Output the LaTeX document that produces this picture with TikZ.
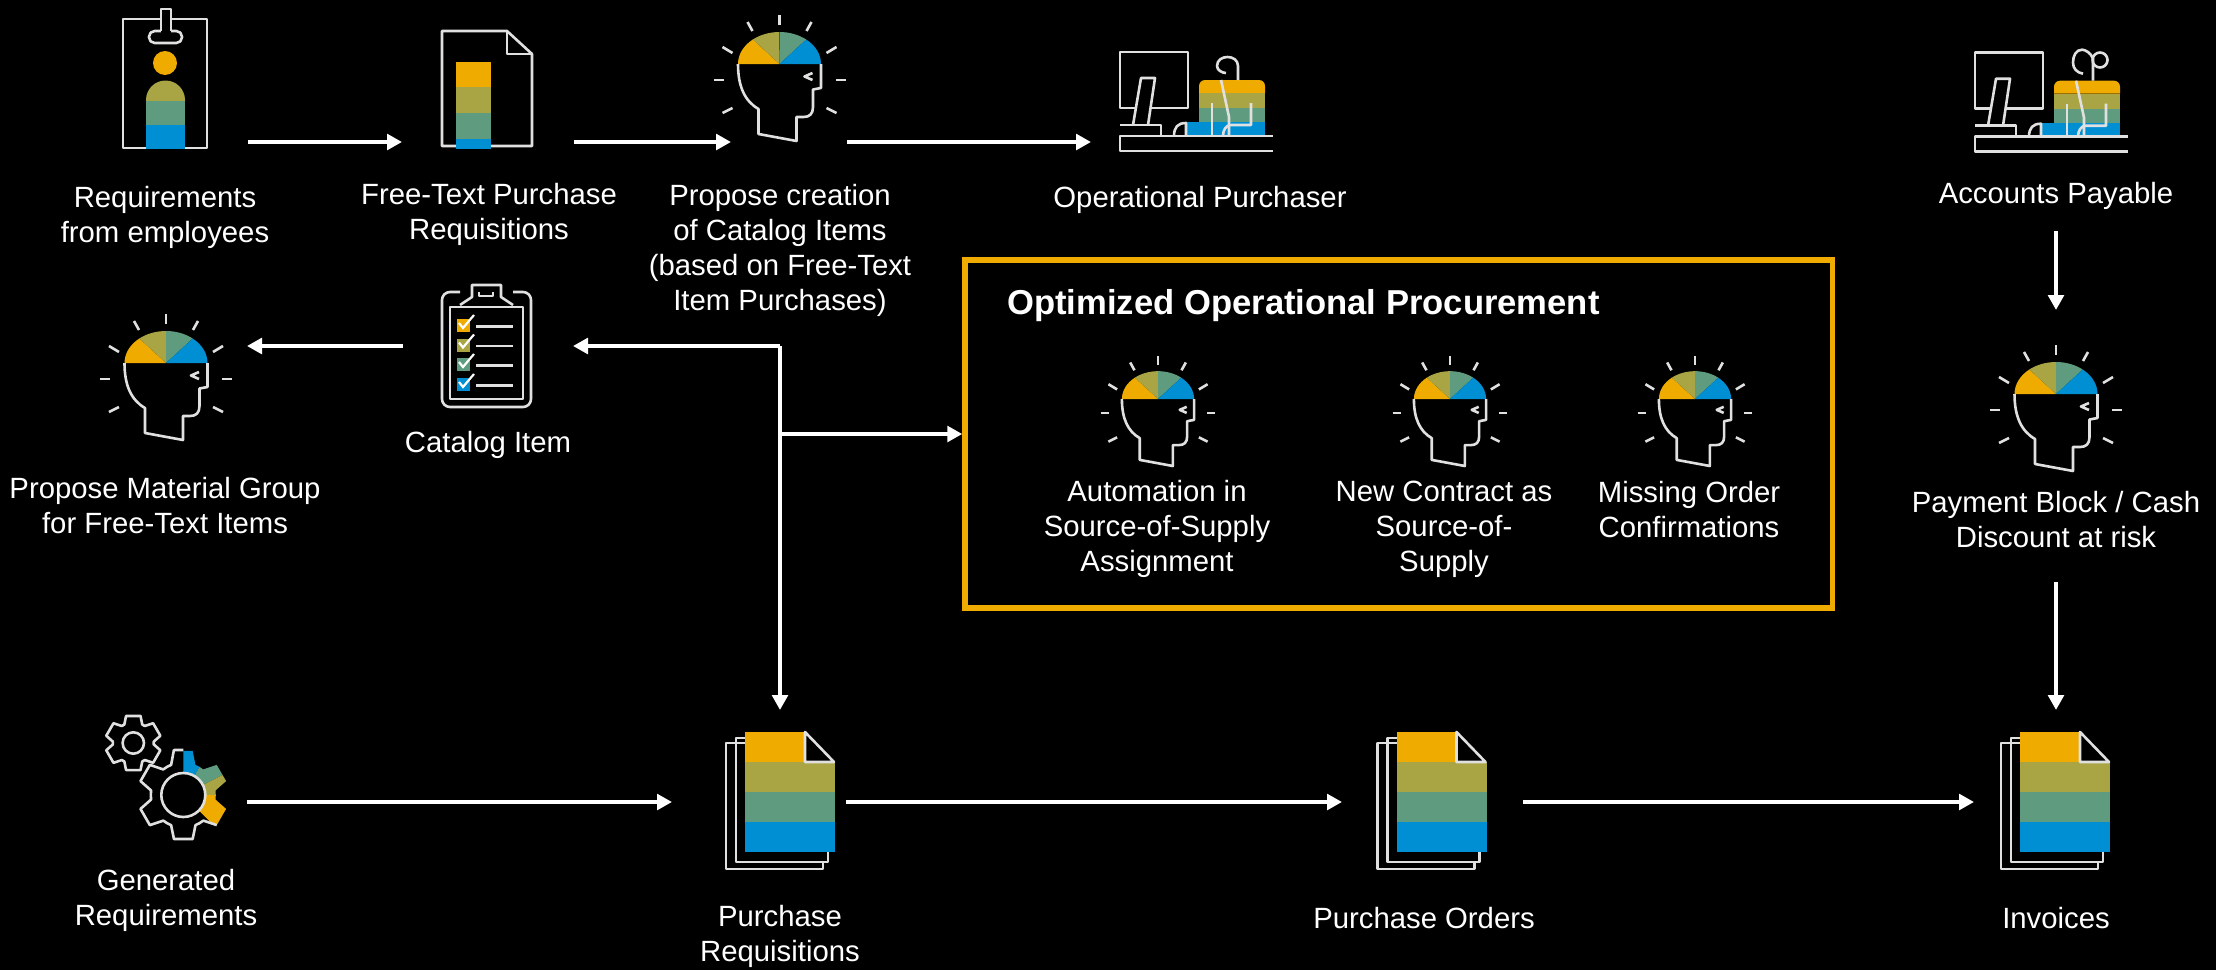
\documentclass[tikz,border=0pt]{standalone}
\usepackage{fontspec}
\setmainfont{Liberation Sans}
\usetikzlibrary{arrows.meta}
\definecolor{cOra}{HTML}{F0AB00}
\definecolor{cOli}{HTML}{A9A544}
\definecolor{cGre}{HTML}{5F9B7E}
\definecolor{cBlu}{HTML}{008FD3}
\definecolor{cLin}{HTML}{E0E0E0}
\newcommand{\gearpath}[4]{(60:#1) \foreach \ga in {90,150,210,270,330,390}{ -- (\ga-#4:#1) -- (\ga-#3:#2) -- (\ga+#3:#2) -- (\ga+#4:#1) -- (\ga+30:#1)} -- cycle}
\tikzset{
  x=0.5pt,y=0.5pt,
  icon/.style={draw=cLin,line width=1.3pt,line join=round},
  flow/.style={draw=white,line width=2pt,-{Triangle[length=7.5pt,width=7.8pt]}},
  lbl/.style={text=white,align=center,inner sep=0pt,font=\fontsize{14.65}{17.5}\selectfont},
  ttl/.style={text=white,anchor=west,inner sep=0pt,font=\fontsize{17.3}{20}\selectfont\bfseries},
  optbox/.style={draw=cOra,line width=2.75pt,minimum width=867.5*0.5pt,minimum height=348*0.5pt,inner sep=0pt},
  pics/thinker/.style={code={
    \fill[cOra] (0,0) -- (-41.5,0) arc[start angle=180,end angle=130,x radius=41.5,y radius=32] -- cycle;
    \fill[cOli] (0,0) -- (-26.7,24.5) arc[start angle=130,end angle=90,x radius=41.5,y radius=32] -- cycle;
    \fill[cGre] (0,0) -- (0,32) arc[start angle=90,end angle=50,x radius=41.5,y radius=32] -- cycle;
    \fill[cBlu] (0,0) -- (26.7,24.5) arc[start angle=50,end angle=0,x radius=41.5,y radius=32] -- cycle;
    \draw[icon] (41.5,0) -- (41.5,-24) -- (33.5,-25.5) -- (33.5,-43) .. controls (33.5,-50) and (30,-53) .. (24,-53) -- (17,-53) -- (17,-77) -- (-21,-70) -- (-21,-45) .. controls (-35,-37) and (-41.5,-22) .. (-41.5,0);
    \draw[icon,line cap=butt] (33,-9) -- (25,-12.5) -- (33,-16);
    \foreach \xa/\ya/\xb/\yb in {0/49/0/39,-32/42/-27/33,32/42/27/33,-57/17/-47/11,57/17/47/11,-66/-16/-56/-16,66/-16/56/-16,-57/-49/-47/-44,57/-49/47/-44}
      \draw[icon] (\xa,\ya) -- (\xb,\yb);
  }},
  pics/docstack/.style={code={
    \draw[icon] (0,-11) -- (-19,-11) -- (-19,-137) -- (78,-137) -- (78,-130);
    \draw[icon] (0,-6) -- (-9,-6) -- (-9,-130) -- (83,-130) -- (83,-120);
    \fill[cOra] (0,0) rectangle (60,-30);
    \fill[cOli] (0,-30) rectangle (90,-60);
    \fill[cGre] (0,-60) rectangle (90,-90);
    \fill[cBlu] (0,-90) rectangle (90,-120);
    \draw[icon] (60,0) -- (89,-30) -- (60,-30) -- cycle;
  }},
  pics/operator/.style={code={
    \fill[cOra] (79,-41) [rounded corners=3pt] -- (79,-28) -- (145,-28) [sharp corners] -- (145,-41) -- cycle;
    \fill[cOli] (79,-41) rectangle (145,-56);
    \fill[cGre] (79,-56) rectangle (145,-70);
    \fill[cBlu] (66,-70) rectangle (145,-84);
    \draw[icon] (0,0) rectangle (68,-56);
    \draw[icon,fill=black] (13,-73) -- (21,-26) -- (35,-26) -- (28,-73);
    \draw[icon] (0,-73) -- (41,-73) -- (41,-84);
    \draw[icon] (153,-84) -- (0,-84) -- (0,-99) -- (153,-99);
    \draw[icon] (66,-84) -- (66,-71) .. controls (58,-71) and (54,-75) .. (54,-84);
    \draw[icon] (101,-28) -- (109,-65) -- (109,-84);
    \draw[icon] (92,-51) -- (92,-84);
    \draw[icon] (131,-51) -- (131,-73) -- (111,-73) .. controls (106,-73) and (103,-78) .. (103,-84);
  }},
  pics/hookplain/.style={code={
    \draw[icon] (118,-28) -- (118,-14) .. controls (118,-2) and (97,-2) .. (97,-14) .. controls (97,-18) and (102,-21) .. (106,-21);
  }},
  pics/hookloop/.style={code={
    \draw[icon] (118,-28) -- (118,-6) .. controls (116,0) and (110,3) .. (107,3) .. controls (101,3) and (98,-3) .. (98,-10) .. controls (98,-16) and (102,-20) .. (108,-21);
    \draw[icon] (125,-7.3) circle[radius=7.5];
  }},
  pics/smallgear/.style={code={
    \draw[icon] \gearpath{20.5}{28}{15}{26};
    \draw[icon] (0,0) circle[radius=10.7];
  }},
  pics/biggear/.style={code={
    \begin{scope}
      \clip \gearpath{32.5}{45}{12}{22};
      \fill[cBlu] (0,0) -- (90:60) arc[start angle=90,end angle=60,radius=60] -- cycle;
      \fill[cGre] (0,0) -- (60:60) arc[start angle=60,end angle=27,radius=60] -- cycle;
      \fill[cOli] (0,0) -- (27:60) arc[start angle=27,end angle=0,radius=60] -- cycle;
      \fill[cOra] (0,0) -- (0:60) arc[start angle=0,end angle=-45,radius=60] -- cycle;
    \end{scope}
    \draw[icon] (0,45) -- (-9.4,45) -- (112:32.5) -- (120:32.5) -- (150-22:32.5) -- (150-12:45) -- (150+12:45) -- (150+22:32.5) -- (180:32.5) -- (210-22:32.5) -- (210-12:45) -- (210+12:45) -- (210+22:32.5) -- (240:32.5) -- (270-22:32.5) -- (270-12:45) -- (270+12:45) -- (270+22:32.5) -- (300:32.5) -- (330-22:32.5) -- (330-12:45);
    \fill[black] (0,0) circle[radius=22];
    \draw[icon] (0,0) circle[radius=22];
  }},
  pics/checkrow/.style={code={
    \fill[#1] (0,0) rectangle (13,-13);
    \draw[draw=white,line width=1.1pt] (2,-4) -- (6,-9) -- (17,4);
    \draw[icon] (19,-7.5) -- (56,-7.5);
  }}
}
\begin{document}
\begin{tikzpicture}
\useasboundingbox (0,0) rectangle (2216,-969);
\fill[black] (-6,6) rectangle (2222,-975);

% --- badge (Requirements from employees)
\fill[cOli] (146,-100) arc[start angle=180,end angle=0,radius=19.5] -- (185,-101) -- (146,-101) -- cycle;
\fill[cGre] (146,-101) rectangle (185,-125);
\fill[cBlu] (146,-125) rectangle (185,-149);
\fill[cOra] (165,-63) circle[radius=12];
\draw[icon] (146,-148) -- (123,-148) -- (123,-19) -- (207,-19) -- (207,-148) -- (185,-148);
\draw[icon,rounded corners=2.8pt] (149,-31) rectangle (182,-43);
\fill[black] (161,-9) rectangle (171,-33);
\draw[icon] (161,-31) -- (161,-9) -- (171,-9) -- (171,-31);

% --- free-text document
\draw[icon] (456,-146) -- (442,-146) -- (442,-31) -- (507,-31) -- (532,-54) -- (532,-146) -- (491,-146);
\draw[icon] (507,-31) -- (507,-54) -- (532,-54);
\fill[cOra] (456,-62) rectangle (491,-87);
\fill[cOli] (456,-87) rectangle (491,-113);
\fill[cGre] (456,-113) rectangle (491,-139);
\fill[cBlu] (456,-139) rectangle (491,-149);

% --- thinking heads
\pic at (779.5,-64) {thinker};
\pic at (166,-363) {thinker};
\pic at (2056,-394) {thinker};
\pic[scale=0.87] at (1158,-399) {thinker};
\pic[scale=0.87] at (1450,-399) {thinker};
\pic[scale=0.87] at (1695,-399) {thinker};

% --- purchasers
\pic at (1120,-52) {operator};
\pic at (1120,-52) {hookplain};
\pic at (1975,-52.7) {operator};
\pic at (1975,-52.7) {hookloop};

% --- clipboard
\draw[icon,rounded corners=4pt] (460,-292) -- (442,-292) -- (442,-407) -- (531,-407) -- (531,-292) -- (513,-292);
\draw[icon] (450,-307) rectangle (523,-399);
\draw[icon] (460,-305) -- (472,-297) -- (472,-285) -- (501,-285) -- (501,-297) -- (513,-305);
\draw[icon] (479,-292) -- (479,-296) -- (493,-296) -- (493,-292);
\pic at (457,-319) {checkrow=cOra};
\pic at (457,-338.5) {checkrow=cOli};
\pic at (457,-358) {checkrow=cGre};
\pic at (457,-378) {checkrow=cBlu};

% --- gears
\pic at (133.3,-743) {smallgear};
\pic at (183.3,-795) {biggear};

% --- document stacks
\pic at (745,-732) {docstack};
\pic at (1396.5,-732) {docstack};
\pic at (2020,-732) {docstack};

% --- highlighted box
\node[optbox] (opt) at (1398.75,-434) {};
\node[ttl] (optT) at (1007,-306) {Optimized Operational Procurement};

% --- labels
\node[lbl] (lReq) at (165,-217) {Requirements\\from employees};
\node[lbl] (lFree) at (489,-214) {Free-Text Purchase\\Requisitions};
\node[lbl] (lProp) at (780,-250) {Propose creation\\of Catalog Items\\(based on Free-Text\\Item Purchases)};
\node[lbl] (lOper) at (1200,-200) {Operational Purchaser};
\node[lbl] (lAcc) at (2056,-196) {Accounts Payable};
\node[lbl] (lCat) at (488,-445) {Catalog Item};
\node[lbl] (lMat) at (165,-506) {Propose Material Group\\for Free-Text Items};
\node[lbl] (lPay) at (2056,-520) {Payment Block / Cash\\Discount at risk};
\node[lbl] (lAut) at (1157,-529) {Automation in\\Source-of-Supply\\Assignment};
\node[lbl] (lNew) at (1444,-529) {New Contract as\\Source-of-\\Supply};
\node[lbl] (lMis) at (1689,-510) {Missing Order\\Confirmations};
\node[lbl] (lGen) at (166,-900) {Generated\\Requirements};
\node[lbl] (lPR) at (780,-936) {Purchase\\Requisitions};
\node[lbl] (lPO) at (1424,-918) {Purchase Orders};
\node[lbl] (lInv) at (2056,-918) {Invoices};

% --- connector ends
\coordinate (a1) at (248,-142);  \coordinate (a2) at (402,-142);
\coordinate (b1) at (574,-142);  \coordinate (b2) at (731,-142);
\coordinate (c1) at (847,-142);  \coordinate (c2) at (1091,-142);
\coordinate (d1) at (403,-346);  \coordinate (d2) at (247,-346);
\coordinate (j1) at (780,-346);  \coordinate (j2) at (573,-346);
\coordinate (j3) at (780,-710);  \coordinate (j4) at (780,-434);
\coordinate (e1) at (247,-802);  \coordinate (e2) at (672,-802);
\coordinate (f1) at (846,-802);  \coordinate (f2) at (1342,-802);
\coordinate (g1) at (1523,-802); \coordinate (g2) at (1974,-802);
\coordinate (h1) at (2056,-231); \coordinate (h2) at (2056,-310);
\coordinate (i1) at (2056,-582); \coordinate (i2) at (2056,-710);

% --- connectors
\draw[flow] (a1) -- (a2);
\draw[flow] (b1) -- (b2);
\draw[flow] (c1) -- (c2);
\draw[flow] (d1) -- (d2);
\draw[flow] (j1) -- (j2);
\draw[flow] (j1) -- (j3);
\draw[flow] (j4) -- (opt.west);
\draw[flow] (e1) -- (e2);
\draw[flow] (f1) -- (f2);
\draw[flow] (g1) -- (g2);
\draw[flow] (h1) -- (h2);
\draw[flow] (i1) -- (i2);
\end{tikzpicture}
\end{document}
